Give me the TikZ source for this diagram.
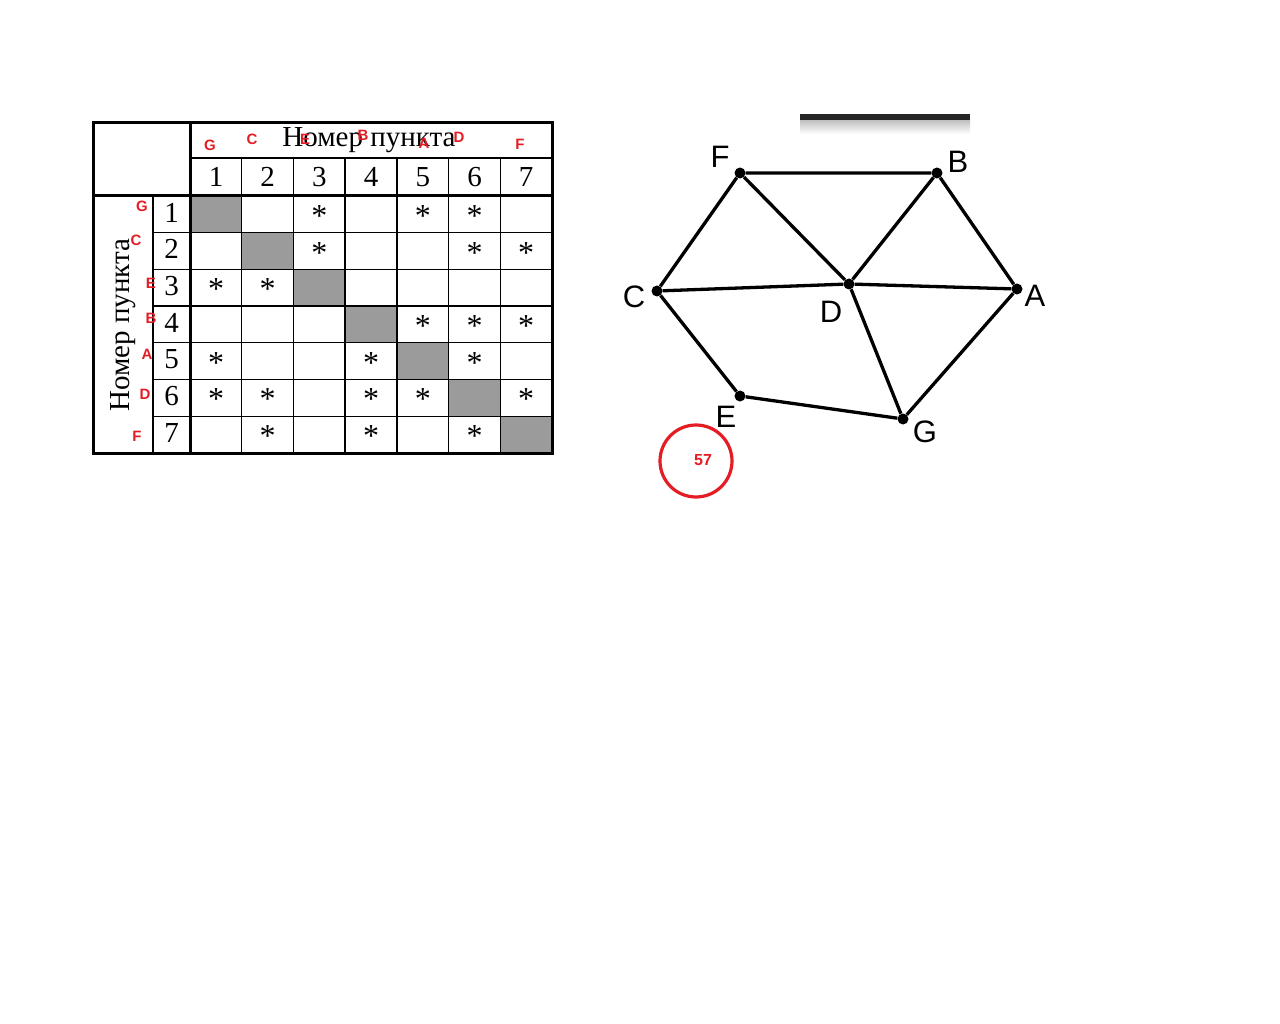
\documentclass[tikz,border=0pt]{standalone}
\usepackage{fontspec}
\setmainfont{Liberation Serif}
\newfontfamily\graphfont{Liberation Sans}
\usetikzlibrary{shadings}
\definecolor{markred}{RGB}{228,28,36}
\definecolor{cellgray}{RGB}{155,155,155}
\tikzset{
  vdot/.style={circle,fill=black,inner sep=0pt,minimum size=11pt},
  vlabel/.style={font=\graphfont\fontsize{31}{31}\selectfont,inner sep=0pt},
  redtag/.style={text=markred,font=\graphfont\bfseries\fontsize{15}{15}\selectfont,inner sep=0pt},
  tabnum/.style={font=\fontsize{29}{29}\selectfont,inner sep=0pt},
  tabstar/.style={font=\fontsize{32}{32}\selectfont,inner sep=0pt,yshift=-2pt}
}
\begin{document}
\begin{tikzpicture}[x=1pt,y=-1pt]
\useasboundingbox (0,0) rectangle (1280,1024);
%table: gray diagonal
\foreach \i in {1,...,7}
  \fill[cellgray] ({190+(\i-1)*51.7},{196+(\i-1)*36.7}) rectangle ++(51.7,36.7);
%thin grid
\foreach \i in {1,...,6}
  \draw[line width=1.4] ({190+\i*51.7},158) -- ({190+\i*51.7},453);
\foreach \i in {1,...,6}
  \draw[line width=1.4] (153,{196+\i*36.7}) -- (552,{196+\i*36.7});
\draw[line width=1.4] (190,158) -- (552,158);
\draw[line width=1.4] (153,196) -- (153,453);
%thick lines
\draw[line width=3] (93,123) rectangle (552,453);
\draw[line width=3] (190,123) -- (190,453);
\draw[line width=3] (93,196) -- (552,196);
%headers
\node[tabnum] (colhead) at (369,140) {Номер пункта};
\node[tabnum,rotate=90] (rowhead) at (123,325) {Номер пункта};
\foreach \i in {1,...,7}{
  \node[tabnum] (c\i) at ({216+(\i-1)*51.7},177) {\i};
  \node[tabnum] (r\i) at (171.5,{212.5+(\i-1)*36.7}) {\i};
}
%stars
\foreach \r/\c in {1/3,1/5,1/6,2/3,2/6,2/7,3/1,3/2,4/5,4/6,4/7,5/1,5/4,5/6,
                   6/1,6/2,6/4,6/5,6/7,7/2,7/4,7/6}
  \node[tabstar] (s\r\c) at ({216+(\c-1)*51.7},{214+(\r-1)*36.7}) {*};
%red letters
\node[redtag] (tG) at (210,145) {G};
\node[redtag] (tC) at (252,139) {C};
\node[redtag] (tE) at (305,139) {E};
\node[redtag] (tB) at (363,135) {B};
\node[redtag] (tA) at (424,143) {A};
\node[redtag] (tD) at (459,137) {D};
\node[redtag] (tF) at (520,144) {F};
\node[redtag] (uG) at (142,206) {G};
\node[redtag] (uC) at (136,240) {C};
\node[redtag] (uE) at (151,283) {E};
\node[redtag] (uB) at (151,318) {B};
\node[redtag] (uA) at (147,354) {A};
\node[redtag] (uD) at (145,394) {D};
\node[redtag] (uF) at (137,436) {F};
%bar
\shade[top color=black!25,bottom color=white] (800,120) rectangle (970,134);
\fill[black!85] (800,114) rectangle (970,120);
%graph
\node[vdot] (F) at (740,173) {};
\node[vdot] (B) at (937,173) {};
\node[vdot] (C) at (657,291) {};
\node[vdot] (D) at (849,284) {};
\node[vdot] (A) at (1017,289) {};
\node[vdot] (E) at (740,396) {};
\node[vdot] (G) at (903,419) {};
\node[vlabel] (lF) at (720,157) {F};
\node[vlabel] (lB) at (958,162) {B};
\node[vlabel] (lC) at (634,297) {C};
\node[vlabel] (lD) at (831,312) {D};
\node[vlabel] (lA) at (1035,296) {A};
\node[vlabel] (lE) at (726,417) {E};
\node[vlabel] (lG) at (925,432) {G};
\draw[line width=3.3] (F)--(B) (F)--(C) (F)--(D) (B)--(D) (B)--(A) (C)--(D)
  (D)--(A) (C)--(E) (E)--(G) (D)--(G) (G)--(A);
%mark
\node[draw=markred,line width=3.2,circle,minimum size=72pt] (ring) at (696,461) {};
\node[redtag,font=\graphfont\bfseries\fontsize{16}{16}\selectfont] (num) at (703,460) {57};
\end{tikzpicture}
\end{document}
